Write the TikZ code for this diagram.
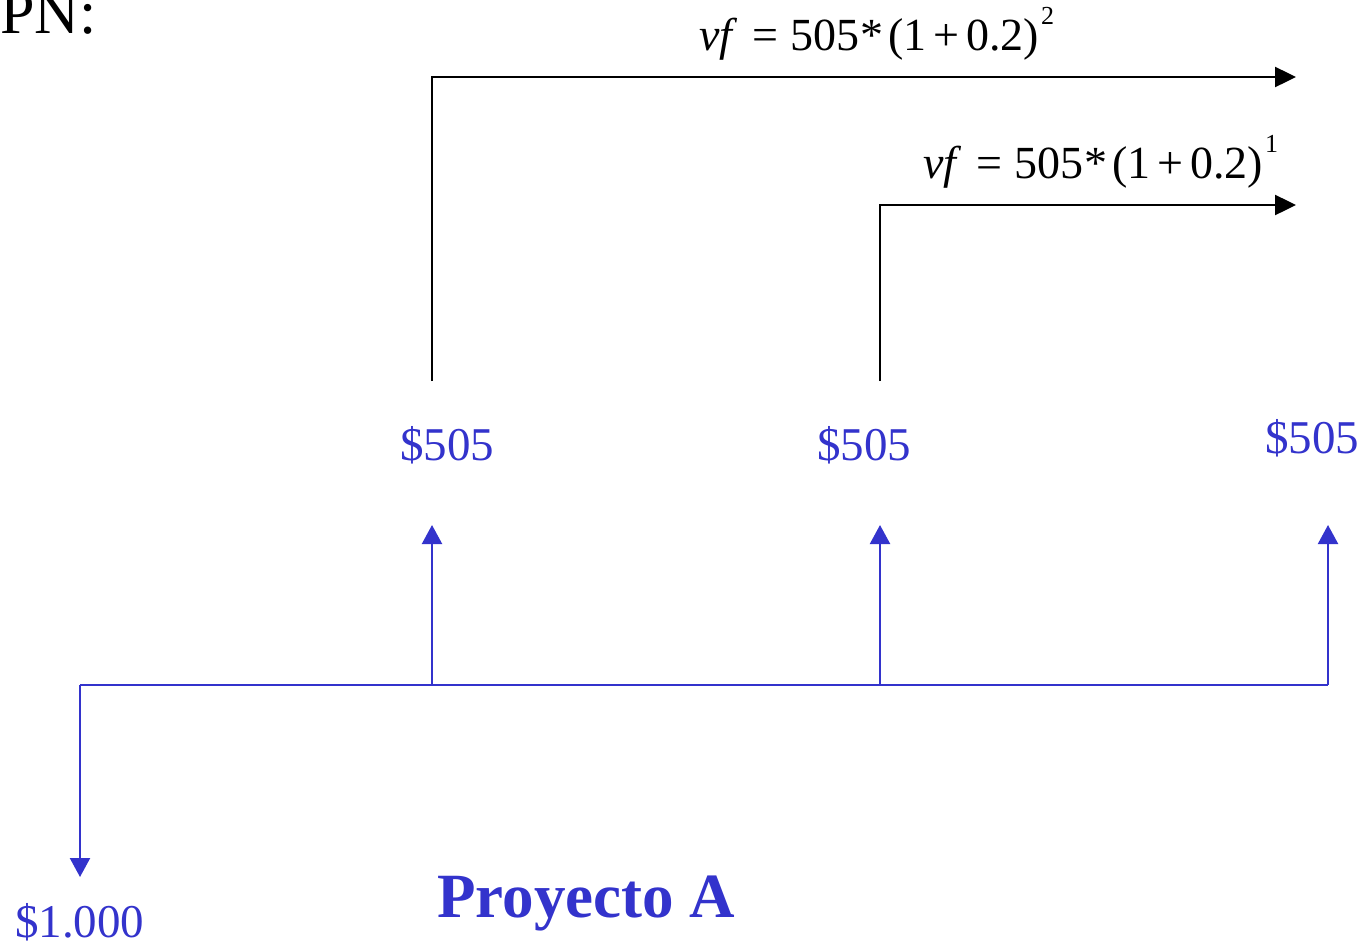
\documentclass[tikz,border=0pt]{standalone}
\usepackage{fontspec}
\setmainfont{Liberation Serif}
\usetikzlibrary{arrows.meta}
\definecolor{cfblue}{HTML}{3333CC}
\tikzset{
  blueline/.style={draw=cfblue, line width=2.2pt},
  blackline/.style={draw=black, line width=2.4pt},
  bluetip/.style={-{Triangle[width=20pt,length=19pt]}},
  blacktip/.style={-{Triangle[width=20pt,length=21pt]}},
  lbl/.style={inner sep=0pt, anchor=base west},
  bluetxt/.style={lbl, text=cfblue, font=\fontsize{47}{50}\selectfont},
  formula/.style={lbl, text=black, font=\fontsize{46}{50}\selectfont},
}
\newcommand{\supnum}[1]{\hspace{0.04em}\raisebox{0.56em}{\fontsize{26}{26}\selectfont #1}}
\newcommand{\vfformula}[1]{\textit{vf}\hspace{0.33em}=\hspace{0.25em}505\hspace{0.03em}*\hspace{0.1em}(1\hspace{0.15em}+\hspace{0.15em}0.2)\supnum{#1}}
\begin{document}
\begin{tikzpicture}[x=1pt,y=-1pt]
\useasboundingbox (0,0) rectangle (1372,940);
% axis points
\coordinate (t0) at (80,685);
\coordinate (t1) at (432,685);
\coordinate (t2) at (880,685);
\coordinate (t3) at (1328,685);
\coordinate (d0) at (80,877);
\coordinate (u1) at (432,525);
\coordinate (u2) at (880,525);
\coordinate (u3) at (1328,525);
% black arrow start / end points
\coordinate (s1) at (432,381);
\coordinate (e1) at (1296,77);
\coordinate (s2) at (880,381);
\coordinate (e2) at (1296,205);
% time line
\draw[blueline] (t0) -- (t3);
\draw[blueline,bluetip] (t0) -- (d0);
\draw[blueline,bluetip] (t1) -- (u1);
\draw[blueline,bluetip] (t2) -- (u2);
\draw[blueline,bluetip] (t3) -- (u3);
% future value arrows
\draw[blackline,blacktip] (s1) |- (e1);
\draw[blackline,blacktip] (s2) |- (e2);
% labels
\node[lbl, font=\fontsize{62}{64}\selectfont] (pn) at (0,33) {PN:};
\node[bluetxt] (v1) at (400,460) {\$505};
\node[bluetxt] (v2) at (817,460) {\$505};
\node[bluetxt] (v3) at (1265,453) {\$505};
\node[bluetxt] (v0) at (15,937) {\$1.000};
\node[lbl, text=cfblue, font=\fontsize{63}{66}\selectfont\bfseries] (title) at (437,917) {Proyecto A};
\node[formula] (f1) at (699,50) {\vfformula{2}};
\node[formula] (f2) at (923,178) {\vfformula{1}};
\end{tikzpicture}
\end{document}
